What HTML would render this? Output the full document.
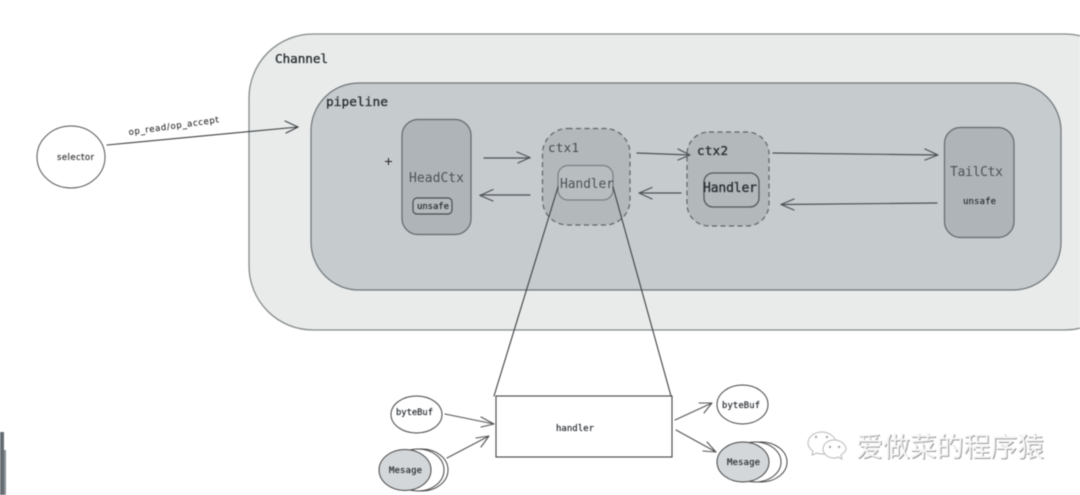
<!DOCTYPE html>
<html><head><meta charset="utf-8"><style>
html,body{margin:0;padding:0;background:#fff}
svg{display:block;filter:blur(0.6px)}
.m{font-family:"DejaVu Sans Mono","Liberation Mono",monospace;fill:#2b3034}
.b{stroke:#2b3034;stroke-width:.35px}
</style></head><body>
<svg width="1080" height="495" viewBox="0 0 1080 495" xmlns="http://www.w3.org/2000/svg">
<rect width="1080" height="495" fill="#fff"/>
<rect x="0" y="432" width="4" height="63" fill="#666d72"/>
<rect x="4" y="450" width="2" height="45" fill="#8a9196"/>
<rect x="249" y="34" width="880" height="296" rx="64" fill="#e8ebea" stroke="#85898b" stroke-width="1.3"/>
<rect x="311" y="83" width="750" height="207" rx="48" fill="#c6cbce" stroke="#6f7478" stroke-width="1.2"/>
<rect x="402" y="119.500" width="69" height="115" rx="16" fill="#afb4b8" stroke="#63686c" stroke-width="1.2"/>
<rect x="542.500" y="128.500" width="87.500" height="96.500" rx="25" fill="#b3b8bb" stroke="#5f6468" stroke-width="1.2" stroke-dasharray="5 3.500"/>
<rect x="558" y="165.500" width="55" height="34.500" rx="10" fill="#b8bdc0" stroke="#7a7f83" stroke-width="1.2"/>
<rect x="687" y="132" width="82" height="94" rx="22" fill="#b3b8bb" stroke="#5f6468" stroke-width="1.2" stroke-dasharray="5 3.500"/>
<rect x="704" y="173" width="55" height="34" rx="9" fill="#b3b8bb" stroke="#53585c" stroke-width="1.3"/>
<rect x="944.500" y="127.500" width="69.500" height="110" rx="16" fill="#afb4b8" stroke="#63686c" stroke-width="1.2"/>
<rect x="413" y="198" width="39" height="16" rx="4" fill="#b5babd" stroke="#484d51" stroke-width="1.2"/>
<g fill="none" stroke="#4c5155" stroke-width="1.200" stroke-linecap="round" stroke-linejoin="round">
<path d="M484 158H530M517 152L530 157.500L518 163"/>
<path d="M530 195H480M493 189.500L480 195.500L493 201"/>
<path d="M637 153L690 155M678 149L690 155L678 160"/>
<path d="M681 193H639M652 187.500L639 193L652 199"/>
<path d="M773 153L938 155M925 149L938 155L925 160"/>
<path d="M937 203L781 204.500M794 199L781 204.500L794 210"/>
</g>
<g fill="none" stroke="#3d4144" stroke-width="1.100" stroke-linecap="round">
<path d="M558 187L494 396"/>
<path d="M613 187L671 396"/>
<path d="M107 145L298 127M285 121L298 127L286 133"/>
</g>
<path d="M388.500 158V165M385 161.500H392" stroke="#222" stroke-width="1"/>
<ellipse cx="71" cy="157" rx="34" ry="31" fill="#fff" stroke="#555" stroke-width="1"/>
<rect x="496" y="396" width="176" height="61" fill="#fff" stroke="#444" stroke-width="1.100"/>
<ellipse cx="416.500" cy="414.500" rx="25.500" ry="18.500" fill="#fff" stroke="#444" stroke-width="1"/>
<ellipse cx="422" cy="470" rx="26" ry="21" fill="#fff" stroke="#444" stroke-width="1"/>
<ellipse cx="418" cy="470" rx="26" ry="21" fill="#fff" stroke="#444" stroke-width="1"/>
<ellipse cx="405" cy="470" rx="26" ry="20.500" fill="#d3d7da" stroke="#444" stroke-width="1"/>
<ellipse cx="742.500" cy="404.500" rx="25.500" ry="19.500" fill="#fff" stroke="#444" stroke-width="1"/>
<ellipse cx="761" cy="462" rx="26" ry="20" fill="#fff" stroke="#444" stroke-width="1"/>
<ellipse cx="755" cy="462" rx="26" ry="20" fill="#fff" stroke="#444" stroke-width="1"/>
<ellipse cx="743" cy="462" rx="26" ry="20" fill="#d3d7da" stroke="#444" stroke-width="1"/>
<g fill="none" stroke="#555" stroke-width="1.100" stroke-linecap="round" stroke-linejoin="round">
<path d="M445 414L494 424M481 417L494 424L481 427"/>
<path d="M447 458L489 436M476 438L489 436L481 447"/>
<path d="M675 420L712 403M699 403L712 403L704 413"/>
<path d="M676 430L716 452M707 442L716 452L703 451"/>
</g>
<text class="m b" x="275" y="63" font-size="12.6" textLength="53">Channel</text>
<text class="m b" x="326" y="106" font-size="12.800" textLength="62">pipeline</text>
<text class="m" x="409" y="182" font-size="13" textLength="55" style="fill:#4d5357">HeadCtx</text>
<text class="m b" x="417" y="209" font-size="9" textLength="32" style="stroke-width:.2px">unsafe</text>
<text class="m" x="548" y="152" font-size="12.500" textLength="31" style="fill:#464c50">ctx1</text>
<text class="m" x="560" y="188" font-size="13" textLength="54" style="fill:#4d5357">Handler</text>
<text class="m b" x="697" y="155" font-size="12.500" textLength="31">ctx2</text>
<text class="m b" x="703" y="192" font-size="13" textLength="54">Handler</text>
<text class="m" x="950" y="176" font-size="13" textLength="53" style="fill:#4d5357">TailCtx</text>
<text class="m b" x="963" y="204" font-size="9" textLength="33" style="stroke-width:.15px">unsafe</text>
<text class="m b" x="396" y="415" font-size="8.800" textLength="37" style="stroke-width:.2px">byteBuf</text>
<text class="m b" x="389" y="473" font-size="9" textLength="33" style="stroke-width:.2px">Mesage</text>
<text class="m b" x="556" y="431" font-size="9" textLength="38" style="stroke-width:.2px">handler</text>
<text class="m b" x="722" y="408" font-size="8.800" textLength="38" style="stroke-width:.2px">byteBuf</text>
<text class="m b" x="727" y="465" font-size="9" textLength="33" style="stroke-width:.2px">Mesage</text>
<text x="57" y="160" font-family="'DejaVu Sans',sans-serif" font-size="8.500" fill="#333" stroke="#333" stroke-width=".15" textLength="37">selector</text>
<text transform="translate(129 135) rotate(-8)" font-family="'DejaVu Sans',sans-serif" font-size="8.500" fill="#333" stroke="#333" stroke-width=".15" textLength="91">op_read/op_accept</text>
<g fill="#fff" stroke="#b9b9b9" stroke-width="1">
<path d="M822 432c-8 0-14 5-14 11c0 3 2 6 5 8l-1 4l5-2c2 1 4 1 6 1c7 0 13-5 13-11s-7-11-14-11z"/>
<path d="M834 440c-6 0-11 4-11 9s5 9 11 9c2 0 3 0 4-1l4 2l-1-4c3-2 5-4 5-6c0-5-6-9-12-9z"/>
</g>
<g fill="#a9a9a9"><circle cx="816" cy="437" r="1.200"/><circle cx="827" cy="437" r="1.200"/><circle cx="830" cy="447" r="1.200"/><circle cx="839" cy="447" r="1.200"/></g>
<text x="857" y="457.500" font-family="'Noto Sans CJK SC',sans-serif" font-size="27" fill="#9a9a9a" textLength="188">爱做菜的程序猿</text>
<text x="856" y="456.500" font-family="'Noto Sans CJK SC',sans-serif" font-size="27" fill="#f6f6f6" textLength="188">爱做菜的程序猿</text>
</svg>
</body></html>
